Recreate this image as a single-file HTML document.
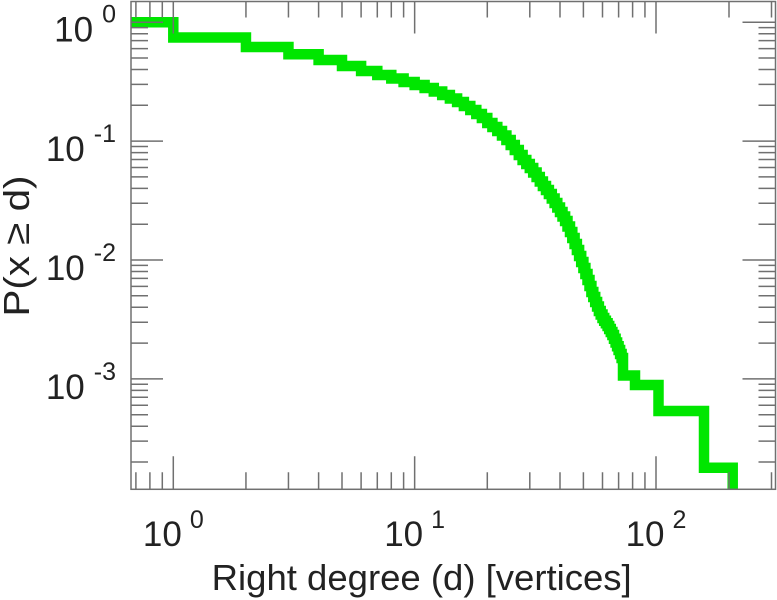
<!DOCTYPE html>
<html><head><meta charset="utf-8"><style>
html,body{margin:0;padding:0;background:#fff;}
svg{display:block;}
text{font-family:"Liberation Sans",Arial,sans-serif;fill:#222;}
</style></head><body>
<svg width="777" height="600" viewBox="0 0 777 600" xmlns="http://www.w3.org/2000/svg">
<defs><clipPath id="c"><rect x="131" y="1.5" width="644.5" height="487.8"/></clipPath></defs>
<rect width="777" height="600" fill="#fff"/>
<path clip-path="url(#c)" fill="none" stroke="#00e600" stroke-width="10.5" stroke-linejoin="miter" stroke-linecap="butt"
d="M120 22.3 H173.3 V37.5 H245.95 V47 H288.45 V54.3 H318.6 V60 H342 V66 H361.1 V71 H377.3 V75 H391.3 V78.5 H403.6 V82 H414.65 V85 H424.6 V88 H433.8 V91.5 H442.2 V95 H449.9 V98.5 H457.1 V102 H463.9 V106 H470.3 V110 H476.3 V114 H481.9 V118 H487.3 V123 H492.4 V127 H497.3 V131 H502.0 V135.5 H506.4 V140 H510.7 V145 H514.8 V150 H518.8 V155 H522.6 V160 H526.3 V164 H529.8 V168 H533.2 V172.5 H536.6 V177 H539.8 V181.5 H542.9 V186 H546 V190 H548.9 V194 H551.8 V198.5 H554.6 V203 H557.3 V207.5 H560 V212 H562.5 V216.5 H565.1 V221 H567.5 V226.5 H570 V232 H572.3 V238 H574.6 V244 H576.9 V250 H579.1 V256 H581.2 V262 H583.4 V268 H585.4 V274 H587.5 V280 H589.5 V286 H591.4 V292 H593.3 V297 H595.2 V302 H597.1 V306.5 H598.9 V311 H600.7 V314.5 H602.5 V318 H604.2 V320.7 H605.9 V323.3 H607.6 V326 H609.2 V329 H610.8 V332 H612.4 V335 H614 V338.75 H615.6 V342.5 H617.1 V346.25 H618.6 V350 H620.1 V354 H621.6 V358 H623 V375.5 H635 V385 H658.5 V411 H704 V467.7 H732.7 V520"/>
<g stroke="#707070" stroke-width="1.5" fill="none">
<rect x="131" y="1.5" width="644.5" height="487.8"/>
<path d="M135.9 489.3v-17M149.9 489.3v-17M162.3 489.3v-17M245.95 489.3v-17M288.45 489.3v-17M318.6 489.3v-17M342 489.3v-17M361.1 489.3v-17M377.3 489.3v-17M391.3 489.3v-17M403.6 489.3v-17M487.3 489.3v-17M529.8 489.3v-17M560 489.3v-17M583.4 489.3v-17M602.5 489.3v-17M618.6 489.3v-17M632.6 489.3v-17M644.95 489.3v-17M729 489.3v-17M771.5 489.3v-17M173.3 489.3v-33M414.65 489.3v-33M656 489.3v-33"/>
<path d="M135.9 1.5v16M149.9 1.5v16M162.3 1.5v16M245.95 1.5v16M288.45 1.5v16M318.6 1.5v16M342 1.5v16M361.1 1.5v16M377.3 1.5v16M391.3 1.5v16M403.6 1.5v16M487.3 1.5v16M529.8 1.5v16M560 1.5v16M583.4 1.5v16M602.5 1.5v16M618.6 1.5v16M632.6 1.5v16M644.95 1.5v16M729 1.5v16M771.5 1.5v16M173.3 1.5v32M414.65 1.5v32M656 1.5v32"/>
<path d="M131 22.2h32M131 141.1h32M131 260h32M131 378.9h32
M131 105.3h17M131 84.4h17M131 69.5h17M131 58h17M131 48.6h17M131 40.6h17M131 33.7h17M131 27.6h17
M131 224.2h17M131 203.3h17M131 188.4h17M131 176.9h17M131 167.5h17M131 159.5h17M131 152.6h17M131 146.5h17
M131 343.1h17M131 322.2h17M131 307.3h17M131 295.8h17M131 286.4h17M131 278.4h17M131 271.5h17M131 265.4h17
M131 462h17M131 441.1h17M131 426.2h17M131 414.7h17M131 405.3h17M131 397.3h17M131 390.4h17M131 384.3h17"/>
<path d="M775.5 22.2h-33M775.5 141.1h-33M775.5 260h-33M775.5 378.9h-33
M775.5 105.3h-17M775.5 84.4h-17M775.5 69.5h-17M775.5 58h-17M775.5 48.6h-17M775.5 40.6h-17M775.5 33.7h-17M775.5 27.6h-17
M775.5 224.2h-17M775.5 203.3h-17M775.5 188.4h-17M775.5 176.9h-17M775.5 167.5h-17M775.5 159.5h-17M775.5 152.6h-17M775.5 146.5h-17
M775.5 343.1h-17M775.5 322.2h-17M775.5 307.3h-17M775.5 295.8h-17M775.5 286.4h-17M775.5 278.4h-17M775.5 271.5h-17M775.5 265.4h-17
M775.5 462h-17M775.5 441.1h-17M775.5 426.2h-17M775.5 414.7h-17M775.5 405.3h-17M775.5 397.3h-17M775.5 390.4h-17M775.5 384.3h-17"/>
</g>
<g font-size="35" text-anchor="end">
<text x="116" y="41.7">10<tspan dx="9" dy="-19" font-size="25">0</tspan></text>
<text x="116" y="161">10<tspan dx="9" dy="-19" font-size="25">-1</tspan></text>
<text x="116" y="280">10<tspan dx="9" dy="-19" font-size="25">-2</tspan></text>
<text x="116" y="399">10<tspan dx="9" dy="-19" font-size="25">-3</tspan></text>
</g>
<g font-size="35" text-anchor="middle">
<text x="173.3" y="546">10<tspan dx="8" dy="-18" font-size="25">0</tspan></text>
<text x="414.65" y="546">10<tspan dx="8" dy="-18" font-size="25">1</tspan></text>
<text x="656" y="546">10<tspan dx="8" dy="-18" font-size="25">2</tspan></text>
</g>
<text x="421.7" y="590" font-size="36" text-anchor="middle" textLength="420" lengthAdjust="spacingAndGlyphs">Right degree (d) [vertices]</text>
<text transform="translate(29,246) rotate(-90)" x="0" y="0" font-size="36" text-anchor="middle" textLength="141" lengthAdjust="spacingAndGlyphs">P(x ≥ d)</text>
</svg>
</body></html>
